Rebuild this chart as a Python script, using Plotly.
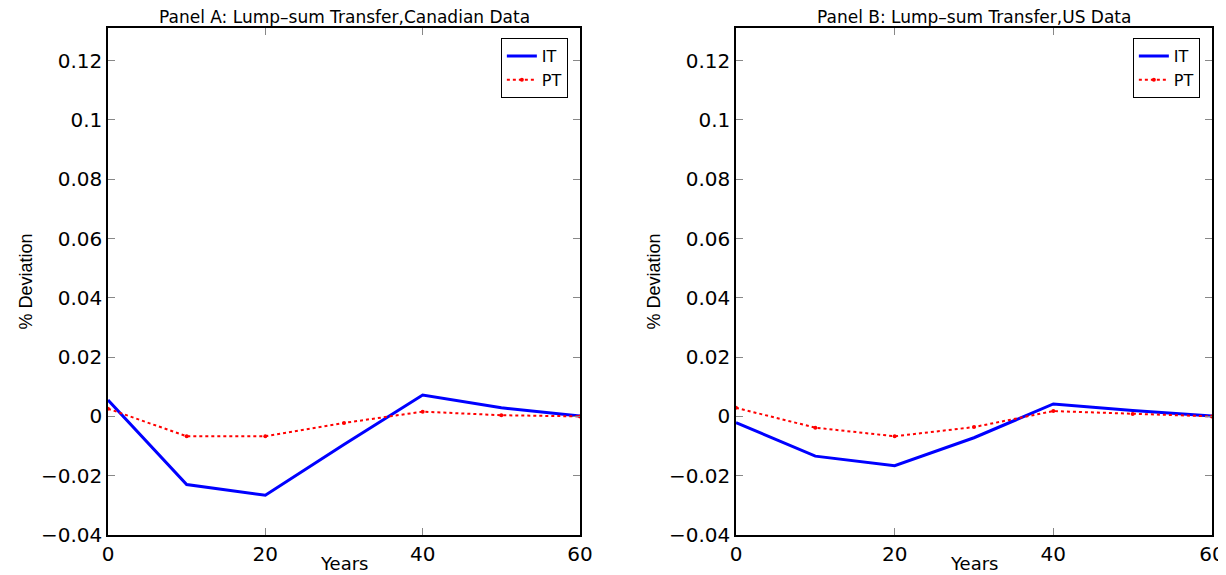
import plotly.graph_objects as go

years = [0, 10, 20, 30, 40, 50, 60]
it_can = [0.0055, -0.0230, -0.0266, -0.0095, 0.0072, 0.0029, 0.0001]
pt_can = [0.0026, -0.0067, -0.0067, -0.0022, 0.0016, 0.0004, 0.0000]
it_us = [-0.0021, -0.0134, -0.0166, -0.0072, 0.0042, 0.0020, 0.0001]
pt_us = [0.0029, -0.0038, -0.0067, -0.0036, 0.0018, 0.0008, 0.0000]

titles = ["Panel A: Lump\u2013sum Transfer,Canadian Data",
          "Panel B: Lump\u2013sum Transfer,US Data"]
yticks = [-0.04, -0.02, 0, 0.02, 0.04, 0.06, 0.08, 0.1, 0.12]
ytick_text = ["\u22120.04", "\u22120.02", "0", "0.02", "0.04", "0.06", "0.08", "0.1", "0.12"]
xticks = [0, 20, 40, 60]

font = "DejaVu Sans, Verdana, sans-serif"
narrow = "Liberation Sans Narrow, Liberation Sans, Arial, sans-serif"
fs = 20
fig = go.Figure()

panels = [(it_can, pt_can, "x", "y", "legend"), (it_us, pt_us, "x2", "y2", "legend2")]
for it, pt, xa, ya, lg in panels:
    fig.add_trace(go.Scatter(x=years, y=it, name="IT", mode="lines",
                             line=dict(color="#0000ff", width=3),
                             xaxis=xa, yaxis=ya, legend=lg, cliponaxis=False))
    fig.add_trace(go.Scatter(x=years, y=pt, name="PT", mode="lines+markers",
                             line=dict(color="#ff0000", width=2, dash="dot"),
                             marker=dict(color="#ff0000", size=4),
                             xaxis=xa, yaxis=ya, legend=lg, cliponaxis=False))

axis_common = dict(showline=True, linecolor="black", linewidth=1.5, mirror="ticks",
                   ticks="inside", ticklen=7, tickcolor="#888888", showgrid=False,
                   zeroline=False, automargin=False,
                   tickfont=dict(family=font, size=fs, color="black"))

# page body has an 8px margin, so the figure is drawn 8px right and down
W, H = 1218, 567
ml, mr, mt, mb = 100, 14, 20, 40
pw = W - ml - mr
d1 = (580 - 8 - ml) / pw
d2 = (736 - 8 - ml) / pw

ytitle = dict(text="% Deviation", font=dict(family=narrow, size=18, color="black"), standoff=4)

fig.update_layout(
    width=W, height=H,
    margin=dict(l=ml, r=mr, t=mt, b=mb, autoexpand=False),
    plot_bgcolor="white", paper_bgcolor="white",
    showlegend=True,
    xaxis=dict(domain=[0, d1], range=[0, 60], tickvals=xticks, anchor="y", **axis_common),
    xaxis2=dict(domain=[d2, 1], range=[0, 60], tickvals=xticks, anchor="y2", **axis_common),
    yaxis=dict(range=[-0.04, 0.131], tickvals=yticks, ticktext=ytick_text, anchor="x",
               title=ytitle, **axis_common),
    yaxis2=dict(range=[-0.04, 0.131], tickvals=yticks, ticktext=ytick_text, anchor="x2",
                title=ytitle, **axis_common),
    legend=dict(x=d1 - 0.011, y=0.98, xanchor="right", yanchor="top",
                bgcolor="white", bordercolor="black", borderwidth=1,
                font=dict(family=font, size=16, color="black"), tracegroupgap=0),
    legend2=dict(x=0.989, y=0.98, xanchor="right", yanchor="top",
                 bgcolor="white", bordercolor="black", borderwidth=1,
                 font=dict(family=font, size=16, color="black"), tracegroupgap=0),
)

for i, t in enumerate(titles):
    cx = (d1 / 2) if i == 0 else ((d2 + 1) / 2)
    fig.add_annotation(text=t, x=cx, y=1, xref="paper", yref="paper",
                       xanchor="center", yanchor="bottom", yshift=0, borderpad=0,
                       showarrow=False,
                       font=dict(family=font, size=17, color="black"))
    fig.add_annotation(text="Years", x=cx, y=0, xref="paper", yref="paper",
                       xanchor="center", yanchor="middle", yshift=-28, borderpad=0,
                       showarrow=False,
                       font=dict(family=font, size=18, color="black"))

fig.write_html("out.html")
